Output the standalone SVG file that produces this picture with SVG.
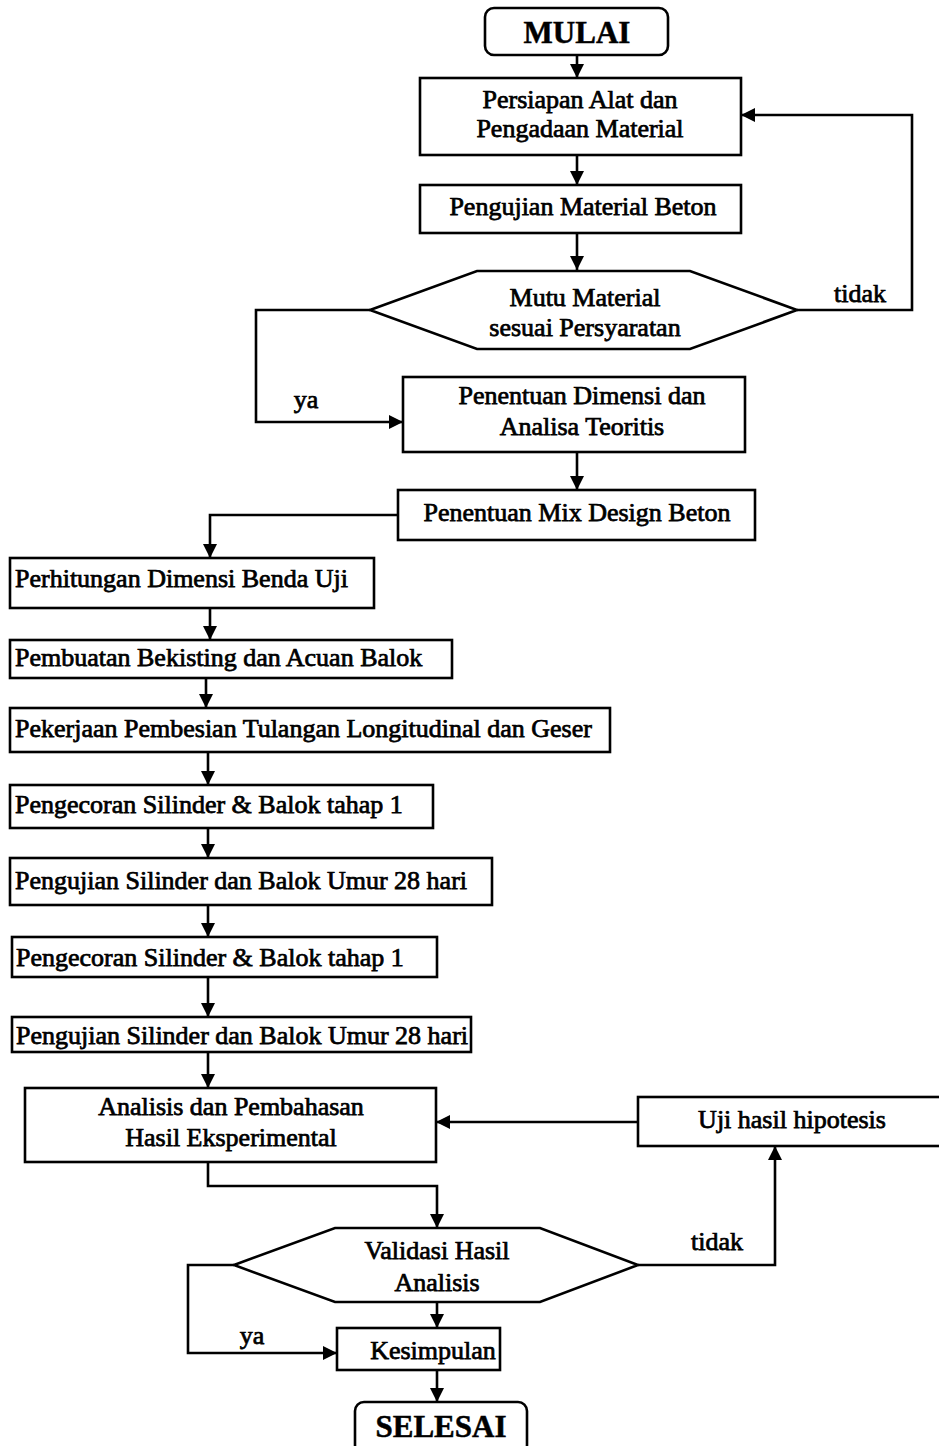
<svg xmlns="http://www.w3.org/2000/svg" width="939" height="1446" viewBox="0 0 939 1446">
  <style>
    .box { fill: #fff; stroke: #000; stroke-width: 2.6; }
    .term { fill: #fff; stroke: #000; stroke-width: 2.6; }
    .arrow { fill: none; stroke: #000; stroke-width: 2.6; marker-end: url(#head); }
    text { font-family: "Liberation Serif", "Times New Roman", serif; font-size: 26px; fill: #000; stroke: #000; stroke-width: 0.75; }
    .c { text-anchor: middle; }
    .big { font-size: 31px; font-weight: bold; stroke-width: 0.5; }
  </style>
  <defs>
    <marker id="head" viewBox="0 0 10 10" refX="10" refY="5" markerUnits="userSpaceOnUse" markerWidth="16" markerHeight="14" orient="auto">
      <path d="M0,0 L10,5 L0,10 z" fill="#000"/>
    </marker>
  </defs>
  <rect width="939" height="1446" fill="#fff"/>

  <g id="connectors">
    <path class="arrow" d="M577,55 V78"/>
    <path class="arrow" d="M577,155 V185"/>
    <path class="arrow" d="M577,233 V270"/>
    <!-- tidak: loop back to preparation -->
    <path class="arrow" d="M797,310 H912 V115 H741"/>
    <!-- ya branch -->
    <path class="arrow" d="M370,310 H256 V422 H403"/>
    <path class="arrow" d="M577,452 V490"/>
    <path class="arrow" d="M398,515 H210 V558"/>
    <path class="arrow" d="M210,608 V640"/>
    <path class="arrow" d="M206,678 V708"/>
    <path class="arrow" d="M208,752 V785"/>
    <path class="arrow" d="M208,828 V858"/>
    <path class="arrow" d="M208,905 V937"/>
    <path class="arrow" d="M208,977 V1017"/>
    <path class="arrow" d="M208,1052 V1088"/>
    <path class="arrow" d="M638,1122 H436"/>
    <path class="arrow" d="M208,1162 V1186 H437 V1228"/>
    <path class="arrow" d="M638,1265 H775 V1146"/>
    <path class="arrow" d="M234,1265 H188 V1353 H337"/>
    <path class="arrow" d="M437,1302 V1328"/>
    <path class="arrow" d="M437,1370 V1402"/>
    <text x="860" y="302" class="c">tidak</text>
    <text x="306" y="408" class="c">ya</text>
    <text x="717" y="1250" class="c">tidak</text>
    <text x="252" y="1344" class="c">ya</text>
  </g>

  <g id="mulai">
    <rect class="term" x="485" y="8" width="183" height="47" rx="9"/>
    <text x="577" y="43" class="c big">MULAI</text>
  </g>
  <g id="persiapan">
    <rect class="box" x="420" y="78" width="321" height="77"/>
    <text x="580" y="108" class="c">Persiapan Alat dan</text>
    <text x="580" y="137" class="c">Pengadaan Material</text>
  </g>
  <g id="pengujian-material">
    <rect class="box" x="420" y="185" width="321" height="48"/>
    <text x="583" y="215" class="c">Pengujian Material Beton</text>
  </g>
  <g id="mutu-material">
    <polygon class="box" points="370,310 477,271 690,271 797,310 690,349 477,349"/>
    <text x="585" y="306" class="c">Mutu Material</text>
    <text x="585" y="336" class="c">sesuai Persyaratan</text>
  </g>
  <g id="penentuan-dimensi">
    <rect class="box" x="403" y="377" width="342" height="75"/>
    <text x="582" y="404" class="c">Penentuan Dimensi dan</text>
    <text x="582" y="435" class="c">Analisa Teoritis</text>
  </g>
  <g id="mix-design">
    <rect class="box" x="398" y="490" width="357" height="50"/>
    <text x="577" y="521" class="c">Penentuan Mix Design Beton</text>
  </g>
  <g id="perhitungan-dimensi">
    <rect class="box" x="10" y="558" width="364" height="50"/>
    <text x="15" y="587">Perhitungan Dimensi Benda Uji</text>
  </g>
  <g id="bekisting">
    <rect class="box" x="10" y="640" width="442" height="38"/>
    <text x="15" y="666">Pembuatan Bekisting dan Acuan Balok</text>
  </g>
  <g id="pembesian">
    <rect class="box" x="10" y="708" width="600" height="44"/>
    <text x="15" y="737">Pekerjaan Pembesian Tulangan Longitudinal dan Geser</text>
  </g>
  <g id="pengecoran-1">
    <rect class="box" x="10" y="785" width="423" height="43"/>
    <text x="15" y="813">Pengecoran Silinder &amp; Balok tahap 1</text>
  </g>
  <g id="pengujian-1">
    <rect class="box" x="10" y="858" width="482" height="47"/>
    <text x="15" y="889">Pengujian Silinder dan Balok Umur 28 hari</text>
  </g>
  <g id="pengecoran-2">
    <rect class="box" x="12" y="937" width="425" height="40"/>
    <text x="16" y="966">Pengecoran Silinder &amp; Balok tahap 1</text>
  </g>
  <g id="pengujian-2">
    <rect class="box" x="12" y="1017" width="459" height="35"/>
    <text x="16" y="1044">Pengujian Silinder dan Balok Umur 28 hari</text>
  </g>
  <g id="analisis">
    <rect class="box" x="25" y="1088" width="411" height="74"/>
    <text x="231" y="1115" class="c">Analisis dan Pembahasan</text>
    <text x="231" y="1146" class="c">Hasil Eksperimental</text>
  </g>
  <g id="uji-hipotesis">
    <rect class="box" x="638" y="1097" width="310" height="49"/>
    <text x="792" y="1128" class="c">Uji hasil hipotesis</text>
  </g>
  <g id="validasi">
    <polygon class="box" points="234,1265 335,1228 540,1228 638,1265 540,1302 335,1302"/>
    <text x="437" y="1259" class="c">Validasi Hasil</text>
    <text x="437" y="1291" class="c">Analisis</text>
  </g>
  <g id="kesimpulan">
    <rect class="box" x="337" y="1328" width="163" height="42"/>
    <text x="433" y="1359" class="c">Kesimpulan</text>
  </g>
  <g id="selesai">
    <rect class="term" x="355" y="1402" width="172" height="52" rx="9"/>
    <text x="441" y="1437" class="c big">SELESAI</text>
  </g>
</svg>
